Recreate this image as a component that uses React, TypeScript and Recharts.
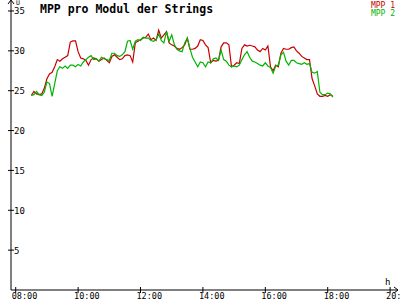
import { LineChart, Line, XAxis, YAxis } from 'recharts';

// samples every 5 minutes starting 08:30
const startHour = 8.5;
const stepMinutes = 5;

const mpp1 = [
  24.4, 24.9, 24.6, 24.5, 24.6, 25.3, 26.5, 27.1, 27.3, 28.0,
  28.9, 28.7, 29.0, 29.2, 29.4, 31.1, 31.25, 31.25, 29.9, 29.1,
  29.0, 28.8, 28.2, 28.9, 29.1, 29.0, 28.7, 28.9, 29.1, 28.8,
  28.5, 29.3, 29.5, 29.2, 28.9, 29.0, 29.4, 29.5, 29.4, 28.6,
  31.0, 31.2, 31.4, 31.6, 31.7, 32.1, 31.4, 31.6, 31.3, 32.6,
  31.6, 32.0, 32.4, 31.0, 30.75, 30.6, 30.3, 30.2, 30.4, 30.75,
  31.6, 30.2, 30.2, 30.3, 30.6, 31.4, 31.3, 30.75, 30.4, 28.5,
  28.8, 28.7, 28.8, 30.5, 31.0, 31.0, 30.75, 28.0, 28.2, 28.5,
  28.4, 30.3, 30.75, 30.6, 30.7, 30.6, 30.5, 30.1, 29.9, 30.3,
  30.1, 30.6, 28.0, 27.5, 28.2, 28.0, 29.7, 30.3, 30.2, 30.2,
  30.4, 30.5, 30.0, 29.7, 29.3, 29.1, 28.9, 28.9, 26.5, 25.6,
  24.6, 24.3, 24.3, 24.4, 24.3, 24.5, 24.3,
];

const mpp2 = [
  24.4, 24.5, 24.9, 24.5, 24.4, 24.8, 26.1, 25.9, 24.3, 25.9,
  27.5, 28.0, 27.8, 28.1, 27.8, 28.2, 28.2, 28.0, 28.3, 28.1,
  28.6, 28.9, 29.2, 29.4, 28.9, 29.0, 28.7, 29.2, 29.0, 28.9,
  28.8, 29.7, 29.7, 29.4, 29.3, 29.5, 29.9, 31.2, 31.3, 30.2,
  31.2, 31.4, 31.3, 31.7, 31.6, 31.6, 31.3, 31.2, 31.4, 32.1,
  31.3, 31.0, 32.4, 31.2, 32.0, 30.8, 30.2, 30.0, 29.9, 31.0,
  31.6, 30.3, 29.2, 28.6, 28.0, 28.6, 28.5, 28.0, 28.6, 28.5,
  29.0, 29.1, 28.8, 30.1, 28.9, 28.7, 28.2, 28.0, 28.1, 28.0,
  28.2, 28.9, 29.5, 29.9, 29.2, 28.7, 28.6, 28.4, 28.2, 28.1,
  28.5, 28.1, 27.9, 27.2, 28.1, 28.2, 29.5, 29.8, 28.7, 28.2,
  28.8, 28.8, 28.5, 28.4, 28.3, 28.5, 28.3, 28.4, 27.3, 27.2,
  27.4, 24.8, 24.5, 24.5, 24.7, 24.6, 24.2,
];

const xTicks = [8, 10, 12, 14, 16, 18, 20];
const yTicks = [5, 10, 15, 20, 25, 30, 35];

const series = [
  { key: 'mpp1', name: 'MPP 1', color: '#c80000' },
  { key: 'mpp2', name: 'MPP 2', color: '#00b400' },
];

const data = mpp1.map((v, i) => ({
  t: startHour + (i * stepMinutes) / 60,
  mpp1: v,
  mpp2: mpp2[i],
}));

const font = '"DejaVu Sans Mono", monospace';

function XTick(props: any) {
  const { x, payload } = props;
  const label = String(payload.value).padStart(2, '0') + ':00';
  return (
    <g>
      <line x1={x} x2={x} y1={287} y2={293} stroke="#000" />
      <text x={x - 4} y={299} fontSize={8.5} fontFamily={font} fill="#000">
        {label}
      </text>
    </g>
  );
}

function YTick(props: any) {
  const { y, payload } = props;
  return (
    <g>
      <line x1={8} x2={14} y1={y} y2={y} stroke="#000" />
      <text x={14} y={y + 3.5} fontSize={9} fontFamily={font} fill="#000">
        {payload.value}
      </text>
    </g>
  );
}

export default function App() {
  return (
    <div style={{ position: 'absolute', left: 0, top: 0, width: 400, height: 300, background: '#fff' }}>
      <LineChart width={400} height={300} data={data} margin={{ top: 3, right: 5, left: 0, bottom: 0 }}>
        <XAxis
          dataKey="t"
          type="number"
          domain={[7.849, 20.157]}
          ticks={xTicks}
          allowDataOverflow
          height={10}
          tickLine={false}
          axisLine={{ stroke: '#000' }}
          tick={<XTick />}
        />
        <YAxis
          type="number"
          domain={[0, 36]}
          ticks={yTicks}
          width={11}
          tickLine={false}
          axisLine={{ stroke: '#000' }}
          tick={<YTick />}
        />
        {series.map((s) => (
          <Line
            key={s.key}
            dataKey={s.key}
            name={s.name}
            stroke={s.color}
            strokeWidth={1.2}
            dot={false}
            type="linear"
            isAnimationActive={false}
          />
        ))}
      </LineChart>
      <svg width={400} height={300} style={{ position: 'absolute', left: 0, top: 0, pointerEvents: 'none' }}>
        <polyline points="11,3 11,1" stroke="#000" />
        <polyline points="8,4 11,0 14,4" fill="none" stroke="#000" />
        <polyline points="395,290 398,290" stroke="#000" />
        <polyline points="394,287 398,290 394,293" fill="none" stroke="#000" />
        <text x={16} y={5} fontSize={6.5} fontFamily={font}>U</text>
        <text x={385} y={285} fontSize={9} fontFamily={font}>h</text>
        <text x={40} y={13} fontSize={11.5} fontWeight="bold" fontFamily={font}>
          MPP pro Modul der Strings
        </text>
        {series.map((s, i) => (
          <text key={s.key} x={395} y={8 + i * 8} textAnchor="end" fontSize={8} fontFamily={font} fill={s.color}>
            {s.name}
          </text>
        ))}
      </svg>
    </div>
  );
}
